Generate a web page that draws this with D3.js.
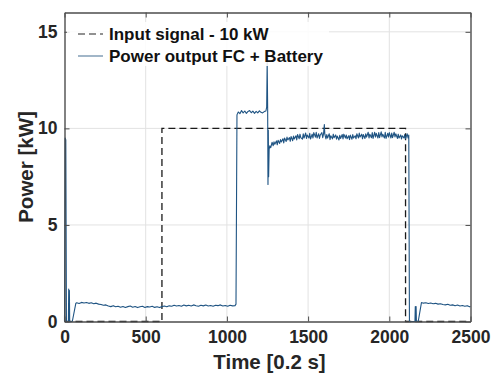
<!DOCTYPE html>
<html>
<head>
<meta charset="utf-8">
<script src="https://cdn.jsdelivr.net/npm/d3@7"></script>
<style>
  html, body { margin: 0; padding: 0; background: #fff; }
  svg { display: block; font-family: "Liberation Sans", Arial, Helvetica, sans-serif; }
</style>
</head>
<body>
<svg id="chart" width="493" height="376"></svg>
<script>
// Axis ticks
const xTicks = [0, 500, 1000, 1500, 2000, 2500];
const yTicks = [0, 5, 10, 15];

// Reference (input) power step, [time, kW]
const inputSignal = [[0, 0], [600, 0], [600, 10], [2100, 10], [2100, 0], [2500, 0]];

// Measured power output of fuel cell + battery, [time, kW]
const powerOutput = [
  [0, 0], [4, 9.5], [8, 9.4], [12, 0], [24, 0], [26, 1.68], [28, 0], [30, 1.6], [32, 0], [48, 0],
  [70, 0.95], [75, 0.97], [90, 0.93], [105, 0.99], [120, 0.96], [135, 0.98], [150, 0.94], [165, 0.97],
  [180, 0.92], [195, 0.95], [210, 0.9], [225, 0.88], [240, 0.84], [255, 0.86], [270, 0.8], [285, 0.77],
  [300, 0.82], [315, 0.76], [330, 0.79], [345, 0.74], [360, 0.78], [375, 0.73], [390, 0.77], [405, 0.8],
  [420, 0.74], [435, 0.78], [450, 0.72], [465, 0.76], [480, 0.79], [495, 0.73], [510, 0.77], [525, 0.75],
  [540, 0.79], [555, 0.73], [570, 0.76], [585, 0.72], [600, 0.77], [615, 0.8], [630, 0.76], [645, 0.81],
  [660, 0.79], [675, 0.84], [690, 0.8], [705, 0.83], [720, 0.79], [735, 0.85], [750, 0.81], [765, 0.84],
  [780, 0.8], [795, 0.86], [810, 0.82], [825, 0.79], [840, 0.84], [855, 0.81], [870, 0.85], [885, 0.8],
  [900, 0.83], [915, 0.79], [930, 0.84], [945, 0.82], [960, 0.86], [975, 0.8], [990, 0.83], [1005, 0.79],
  [1020, 0.84], [1035, 0.81], [1050, 0.82], [1056, 0.9],
  [1062, 10.7], [1070, 10.85], [1080, 10.76], [1090, 10.92], [1100, 10.8], [1110, 10.9], [1120, 10.78],
  [1130, 10.88], [1140, 10.92], [1150, 10.81], [1160, 10.89], [1170, 10.78], [1180, 10.88], [1190, 10.8],
  [1200, 10.91], [1210, 10.83], [1220, 10.8], [1230, 10.87], [1240, 10.9], [1245, 11.1], [1248, 13.5],
  [1251, 11.0], [1253, 7.1], [1255, 9.9], [1257, 7.5], [1260, 8.9], [1264, 9.1], [1270, 9.0], [1278, 9.28],
  [1285, 9.1], [1290, 9.3], [1295, 9.18], [1305, 9.35], [1310, 9.15], [1315, 9.38], [1325, 9.22], [1330, 9.42],
  [1335, 9.3], [1345, 9.46], [1350, 9.25], [1355, 9.5], [1365, 9.32], [1370, 9.55], [1375, 9.4], [1385, 9.52],
  [1390, 9.33], [1395, 9.58], [1405, 9.36], [1410, 9.6], [1415, 9.45], [1425, 9.62], [1430, 9.4], [1435, 9.68],
  [1445, 9.46], [1450, 9.7], [1455, 9.52], [1465, 9.44], [1470, 9.72], [1475, 9.5], [1485, 9.76], [1490, 9.48],
  [1495, 9.66], [1505, 9.5], [1510, 9.74], [1515, 9.45], [1525, 9.7], [1530, 9.5], [1535, 9.78], [1545, 9.55],
  [1550, 9.8], [1555, 9.5], [1565, 9.72], [1570, 9.48], [1575, 9.66], [1585, 9.78], [1590, 9.52], [1595, 9.7],
  [1600, 10.2], [1603, 9.7], [1610, 9.45], [1615, 9.68], [1620, 9.5], [1630, 9.72], [1635, 9.42], [1640, 9.62],
  [1650, 9.46], [1655, 9.7], [1660, 9.52], [1670, 9.66], [1675, 9.44], [1680, 9.6], [1690, 9.4], [1695, 9.64],
  [1700, 9.48], [1710, 9.68], [1715, 9.45], [1720, 9.7], [1730, 9.5], [1735, 9.66], [1740, 9.46], [1750, 9.62],
  [1755, 9.42], [1760, 9.65], [1770, 9.44], [1775, 9.68], [1780, 9.5], [1790, 9.62], [1795, 9.46], [1800, 9.72],
  [1810, 9.5], [1815, 9.76], [1820, 9.55], [1830, 9.7], [1835, 9.46], [1840, 9.68], [1850, 9.48], [1855, 9.72],
  [1860, 9.55], [1870, 9.8], [1875, 9.5], [1880, 9.7], [1890, 9.52], [1895, 9.78], [1900, 9.48], [1910, 9.8],
  [1915, 9.55], [1920, 9.74], [1930, 9.5], [1935, 9.78], [1940, 9.52], [1950, 9.82], [1955, 9.56], [1960, 9.7],
  [1970, 9.5], [1975, 9.8], [1980, 9.48], [1990, 9.74], [1995, 9.55], [2000, 9.78], [2010, 9.5], [2015, 9.76],
  [2020, 9.52], [2030, 9.8], [2035, 9.56], [2040, 9.72], [2050, 9.48], [2055, 9.7], [2060, 9.5], [2070, 9.66],
  [2075, 9.45], [2080, 9.62], [2090, 9.5], [2095, 9.68], [2100, 9.46], [2110, 9.72], [2116, 9.5], [2120, 9.65],
  [2124, 0], [2158, 0], [2160, 0.78], [2162, 0], [2165, 0.78], [2167, 0], [2178, 0],
  [2198, 0.98], [2210, 0.95], [2225, 0.97], [2240, 0.93], [2255, 0.96], [2270, 0.92], [2285, 0.94],
  [2300, 0.9], [2315, 0.92], [2330, 0.88], [2345, 0.86], [2360, 0.89], [2375, 0.84], [2390, 0.86],
  [2405, 0.82], [2420, 0.85], [2435, 0.8], [2450, 0.83], [2465, 0.79], [2480, 0.82], [2495, 0.76], [2500, 0.78]
];

const legendLabels = ["Input signal - 10 kW", "Power output FC + Battery"];

const svg = d3.select("#chart");
const plotLeft = 64.5, plotRight = 470.5, plotTop = 12.5, plotBottom = 321.5;

const x = d3.scaleLinear().domain([0, 2500]).range([plotLeft, plotRight]);
const y = d3.scaleLinear().domain([0, 16]).range([plotBottom, plotTop]);

const axisColor = "#4d4d4d";
const textColor = "#262626";

// grid
const grid = svg.append("g");
grid.selectAll("line.gx").data(xTicks.slice(1, -1)).join("line")
  .attr("class", "gx")
  .attr("x1", d => x(d)).attr("x2", d => x(d)).attr("y1", plotTop).attr("y2", plotBottom)
  .attr("stroke", "#e2e2e2").attr("stroke-width", 1);
grid.selectAll("line.gy").data(yTicks.slice(1)).join("line")
  .attr("class", "gy")
  .attr("x1", plotLeft).attr("x2", plotRight).attr("y1", d => y(d)).attr("y2", d => y(d))
  .attr("stroke", "#e2e2e2").attr("stroke-width", 1);

// data lines
const line = d3.line().x(d => x(d[0])).y(d => y(d[1]));
svg.append("path").datum(inputSignal).attr("d", line)
  .attr("fill", "none").attr("stroke", "#1a1a1a").attr("stroke-width", 1.3)
  .attr("stroke-dasharray", "7,4");
svg.append("path").datum(powerOutput).attr("d", line)
  .attr("fill", "none").attr("stroke", "#1f5483").attr("stroke-width", 1.1)
  .attr("stroke-linejoin", "round");

// axes: bottom/left with labels, top/right mirrored ticks
const tickLen = 5;
const fmt = d3.format("d");
const gx = svg.append("g").attr("transform", `translate(0,${plotBottom})`)
  .call(d3.axisBottom(x).tickValues(xTicks).tickFormat(fmt).tickSizeInner(-tickLen).tickSizeOuter(0).tickPadding(9));
const gy = svg.append("g").attr("transform", `translate(${plotLeft},0)`)
  .call(d3.axisLeft(y).tickValues(yTicks).tickFormat(fmt).tickSizeInner(-tickLen).tickSizeOuter(0).tickPadding(7));
const gxt = svg.append("g").attr("transform", `translate(0,${plotTop})`)
  .call(d3.axisTop(x).tickValues(xTicks).tickSizeInner(-tickLen).tickSizeOuter(0).tickFormat(""));
const gyr = svg.append("g").attr("transform", `translate(${plotRight},0)`)
  .call(d3.axisRight(y).tickValues(yTicks).tickSizeInner(-tickLen).tickSizeOuter(0).tickFormat(""));

[gx, gy, gxt, gyr].forEach(g => {
  g.select(".domain").attr("stroke", axisColor).attr("stroke-width", 1.4);
  g.selectAll(".tick line").attr("stroke", axisColor).attr("stroke-width", 1);
  g.selectAll(".tick text").attr("fill", textColor).attr("font-size", 17.5)
    .attr("font-weight", "bold").attr("font-family", "Liberation Sans, Arial, sans-serif");
});

// axis titles
svg.append("text").attr("x", (plotLeft + plotRight) / 2 + 2).attr("y", 369)
  .attr("text-anchor", "middle").attr("font-size", 20.5).attr("font-weight", "bold")
  .attr("fill", textColor).text("Time [0.2 s]");
svg.append("text").attr("transform", `translate(33,${(plotTop + plotBottom) / 2}) rotate(-90)`)
  .attr("text-anchor", "middle").attr("font-size", 20.5).attr("font-weight", "bold")
  .attr("fill", textColor).text("Power [kW]");

// legend
const lg = svg.append("g");
lg.append("rect").attr("x", 67).attr("y", 22).attr("width", 262).attr("height", 44)
  .attr("fill", "#fff").attr("fill-opacity", 0.85);
const rows = [34, 56];
lg.append("line").attr("x1", 78).attr("x2", 103).attr("y1", rows[0]).attr("y2", rows[0])
  .attr("stroke", "#6e6e6e").attr("stroke-width", 1.3).attr("stroke-dasharray", "7,4");
lg.append("line").attr("x1", 78).attr("x2", 103).attr("y1", rows[1]).attr("y2", rows[1])
  .attr("stroke", "#6f8fab").attr("stroke-width", 1.3);
lg.selectAll("text").data(legendLabels).join("text")
  .attr("x", 109).attr("y", (d, i) => rows[i] + 6)
  .attr("font-size", 17).attr("font-weight", "bold").attr("fill", "#111")
  .text(d => d);
</script>
</body>
</html>
